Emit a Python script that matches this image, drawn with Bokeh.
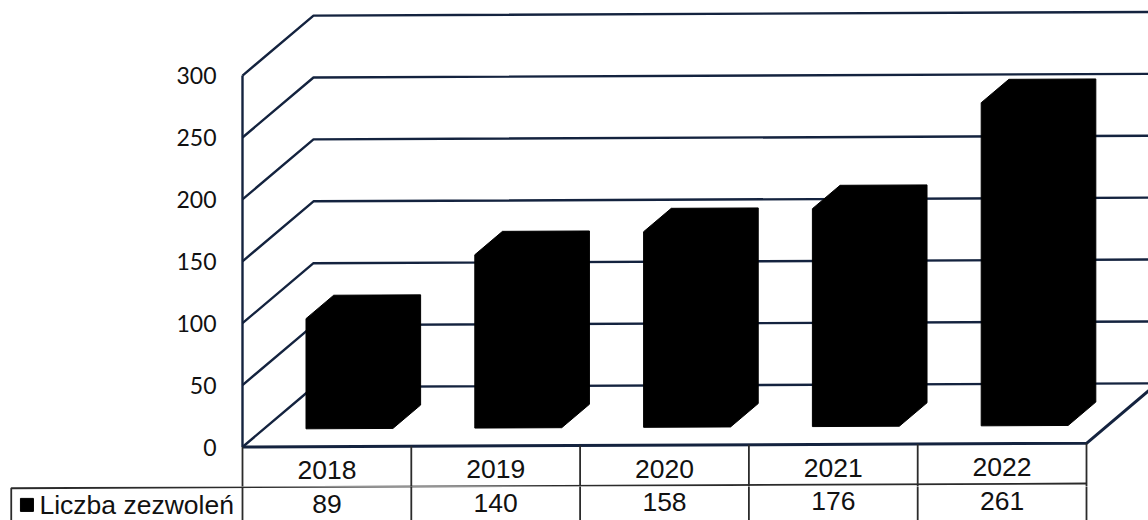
from bokeh.core.properties import value
from bokeh.embed import file_html
from bokeh.layouts import column
from bokeh.models import FixedTicker, Range1d
from bokeh.plotting import figure
from bokeh.resources import INLINE

years = ["2018", "2019", "2020", "2021", "2022"]
permits = [89, 140, 158, 176, 261]
y_ticks = [0, 50, 100, 150, 200, 250, 300]
series_name = "Liczba zezwoleń"

# Oblique projection: depth 0 is the front plane, depth 1 the back wall.
CAT_PX = 168.8
UNIT_PX = 1.238
DEPTH_X = 71 / CAT_PX
DEPTH_Y = 60 / UNIT_PX
SLOPE = 0.6  # value units gained per category, the whole chart leans slightly
FRAME_LEFT = 240
ORIGIN_X = 242
ORIGIN_Y = 446.5
SPLIT_Y = 486
PAGE_W = 1148
PAGE_H = 520

LINE = "#14233f"
TABLE = "#2b2b2b"
TEXT = "#111111"
count = len(years)


def project(cat, val, depth=0.0):
    return cat + DEPTH_X * depth, val + SLOPE * cat + DEPTH_Y * depth


def polyline(points):
    pts = [project(*pt) for pt in points]
    return [pt[0] for pt in pts], [pt[1] for pt in pts]


def table_text(fig, cat, val, label):
    cx, cy = project(cat, val)
    fig.text([cx], [cy], text=[label], text_font=value("Liberation Sans"),
             text_font_size="26.5px", text_color=TEXT,
             text_align="center", text_baseline="middle")


# Cell borders shared by both figures, each showing the part inside its frame
LEGEND_EDGE = -1.37
ROW_LINE = -32.5
BOTTOM = -62


def table_grid(fig):
    for i in range(count + 1):
        xs, ys = polyline([(i, 0, 0), (i, BOTTOM, 0)])
        fig.line(xs, ys, line_color=TABLE, line_width=1.8)
    xs, ys = polyline([(LEGEND_EDGE, BOTTOM, 0), (LEGEND_EDGE, ROW_LINE, 0), (count, ROW_LINE, 0)])
    fig.line(xs, ys, line_color=TABLE, line_width=1.8)


# Upper figure: plot area with its value axis and the row of years
p = figure(
    width=PAGE_W, height=SPLIT_Y, output_backend="svg", toolbar_location=None,
    x_range=Range1d((FRAME_LEFT - ORIGIN_X) / CAT_PX, (PAGE_W - ORIGIN_X) / CAT_PX),
    y_range=Range1d((ORIGIN_Y - SPLIT_Y) / UNIT_PX, ORIGIN_Y / UNIT_PX),
    min_border_left=FRAME_LEFT, min_border_right=0, min_border_top=0, min_border_bottom=0,
    x_axis_type=None, outline_line_color=None,
)
p.frame_align = False
p.grid.visible = False

yaxis = p.yaxis[0]
yaxis.ticker = FixedTicker(ticks=y_ticks)
yaxis.axis_line_color = None
yaxis.major_tick_line_color = None
yaxis.minor_tick_line_color = None
yaxis.major_label_standoff = 18
yaxis.major_label_text_font = "Lato"
yaxis.major_label_text_font_size = "23px"
yaxis.major_label_text_color = TEXT

# Walls and floor
for tick in y_ticks:
    xs, ys = polyline([(0, tick, 0), (0, tick, 1), (5.6, tick, 1)])
    p.line(xs, ys, line_color=LINE, line_width=2.4)
xs, ys = polyline([(0, 0, 0), (0, y_ticks[-1], 0)])
p.line(xs, ys, line_color=LINE, line_width=2.4)
xs, ys = polyline([(0, 0, 0), (count, 0, 0), (count, 0, 1)])
p.line(xs, ys, line_color=LINE, line_width=3)

# Solid bars: front, side and top merge into one black silhouette
bar_xs, bar_ys = [], []
for i, v in enumerate(permits):
    left, right = i + 0.25, i + 0.765
    near, far = 0.3, 0.69
    xs, ys = polyline([
        (left, 0, near), (left, v, near), (left, v, far),
        (right, v, far), (right, 0, far), (right, 0, near),
    ])
    bar_xs.append(xs)
    bar_ys.append(ys)
p.patches(bar_xs, bar_ys, fill_color="#000000", line_color="#000000", line_width=1)

table_grid(p)
for i, year in enumerate(years):
    table_text(p, i + 0.5, -19, year)

# Lower figure: the value row and the legend cell, spanning the full page width
t = figure(
    width=PAGE_W, height=PAGE_H - SPLIT_Y, output_backend="svg", toolbar_location=None,
    x_range=Range1d(-ORIGIN_X / CAT_PX, (PAGE_W - ORIGIN_X) / CAT_PX),
    y_range=Range1d((ORIGIN_Y - PAGE_H) / UNIT_PX, (ORIGIN_Y - SPLIT_Y) / UNIT_PX),
    min_border=0, x_axis_type=None, y_axis_type=None, outline_line_color=None,
)
t.frame_align = False
t.grid.visible = False

table_grid(t)
for i, v in enumerate(permits):
    table_text(t, i + 0.5, -46, str(v))

# Legend key and series name
key_x, key_y = project(-1.277, -46)
t.scatter([key_x], [key_y], marker="square", size=13, fill_color="#000000", line_color="#000000")
name_x, name_y = project(-1.203, -46)
t.text([name_x], [name_y], text=[series_name], text_font=value("Liberation Sans"),
       text_font_size="26.5px", text_color=TEXT, text_align="left", text_baseline="middle")

page = column(p, t, spacing=0)
open("out.html", "w").write(file_html(page, INLINE))
